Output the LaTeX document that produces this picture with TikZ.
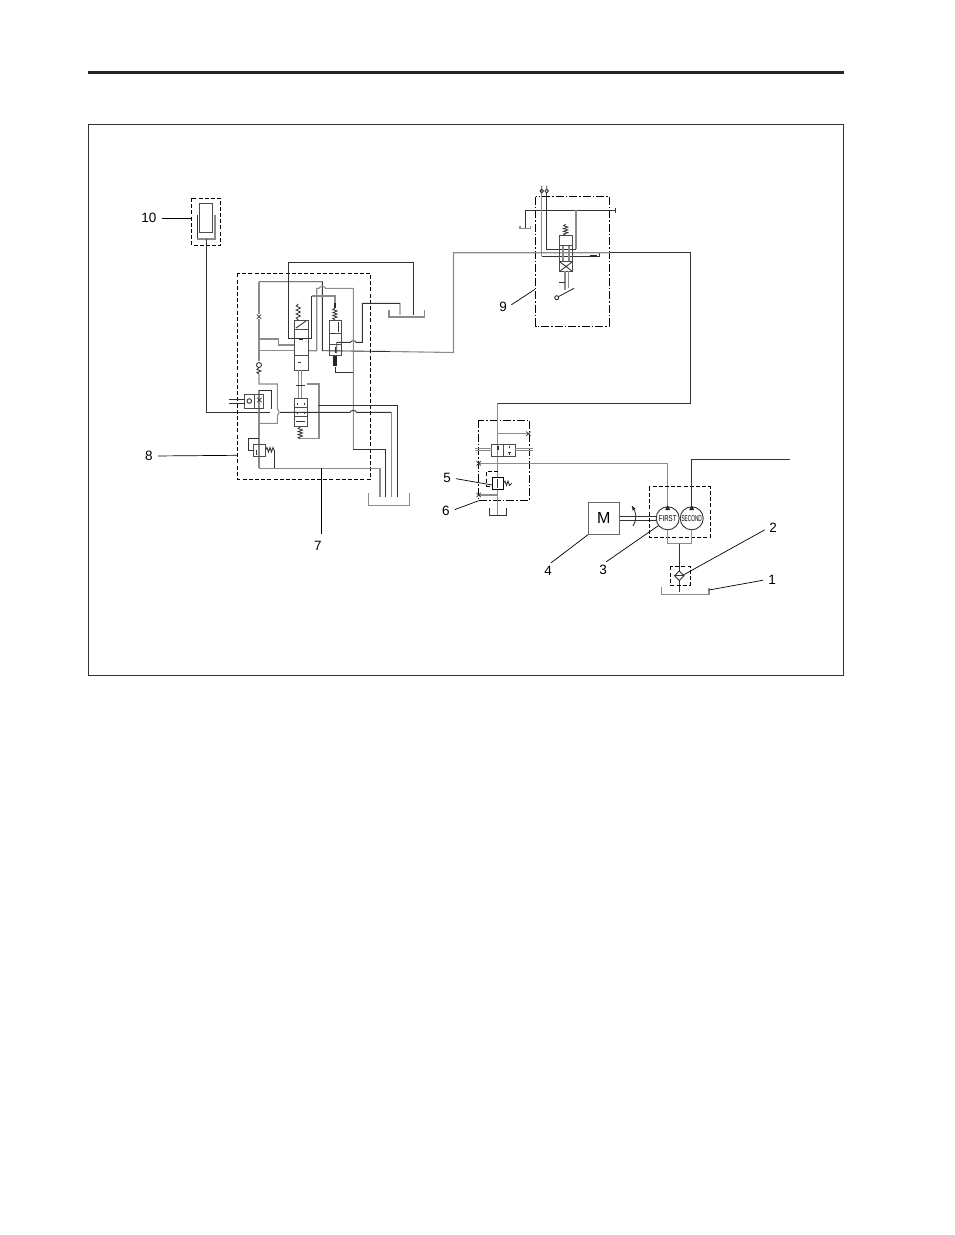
\documentclass[tikz,border=0pt]{standalone}
\usepackage{fontspec}
\setmainfont{Liberation Sans}
\usetikzlibrary{calc}
\tikzset{
  pipe/.style={line width=.9pt,black!80},
  pipeg/.style={line width=1.1pt,black!45},
  vbox/.style={line width=1pt,black!70},
  dbox/.style={line width=.8pt,black,dash pattern=on 4pt off 2.2pt},
  ddbox/.style={line width=.8pt,black,dash pattern=on 8pt off 2pt on 1.5pt off 2pt},
  leader/.style={line width=.7pt,black,shorten <=4pt},
  numlabel/.style={inner sep=1pt,font=\fontsize{13.5}{15}\selectfont},
}
\newcommand{\xmark}[2]{\draw[line width=.7pt,black!80] (#1-2.2,#2-2.2)--(#1+2.2,#2+2.2) (#1-2.2,#2+2.2)--(#1+2.2,#2-2.2);}
% zigzag spring going down from (x,y), h = one eighth of its length
\newcommand{\springv}[3]{\draw[line width=.8pt,black!80] (#1,#2)--(#1-2.2,#2+#3)--(#1+2.2,#2+2*#3)--(#1-2.2,#2+3*#3)--(#1+2.2,#2+4*#3)--(#1-2.2,#2+5*#3)--(#1+2.2,#2+6*#3)--(#1-2.2,#2+7*#3)--(#1,#2+8*#3);}
\begin{document}
\begin{tikzpicture}[x=1pt,y=-1pt]
  \useasboundingbox (0,0) rectangle (954,1235);
  \draw[line width=3pt,black!85] (88,72)--(844,72);
  \draw[line width=.9pt,black!80] (88.5,124) rectangle (843.5,675.5);

  % block 10
  \begin{scope}
    \draw[dbox] (191.7,198) rectangle (220.7,245.7);
    \draw[vbox] (199.3,203.7) rectangle (212.7,232.7);
    \draw[pipe] (197.3,215)--(197.3,239);
    \draw[pipeg] (197.3,239)--(215,239)--(215,215);
    \draw[pipe] (206.3,239)--(206.3,412.3)--(259,412.3);
  \end{scope}

  % block 7
  \draw[dbox] (237.7,273.3) rectangle (370.7,479.3);
  \begin{scope}
    \coordinate (T1) at (413.7,315);
    \coordinate (T2) at (400,315);
    \draw[pipe] (311.7,338.3)--(288.3,338.3)--(288.3,262)--(413.7,262)--(T1);
    \draw[pipeg] (389,310)--(389,317)--(424.3,317)--(424.3,310);
    \draw[pipe] (T2)--(400,303.3)--(362.3,303.3)--(362.3,342.3)--(356,342.3) to[bend right=80] (350.5,342.3) --(336.7,342.3)--(336.7,353.3);
    \draw[pipe] (259,281.7)--(322.3,281.7)--(322.3,350.7)--(390,351.5);
    \draw[pipeg] (259,281.7)--(259,314);
    \draw[pipeg] (259,319)--(259,361);
    \draw[pipeg] (308,350.7)--(316.7,350.7)--(316.7,288.3)--(319,288.3) to[bend left=80] (325.5,288.3)--(353.3,288.3)--(353.3,449.3);
    \draw[pipe] (353.3,449.3)--(385.7,449.3)--(385.7,496.7);
    \draw[pipe] (311.7,338.3)--(311.7,296);
    \draw[pipeg] (311.7,296)--(335,296)--(335,303);
    \draw[pipeg] (259,339)--(278.3,339)--(278.3,345)--(294,345);
    \draw[pipeg] (259,350.7)--(294,350.7);
    \draw[pipe] (335,366.7)--(335,372.7)--(353.3,372.7);

    % upper valves
    \draw[vbox] (294,320) rectangle (308,370);
    \draw[vbox] (294,329.3)--(308,329.3) (294,355)--(308,355);
    \draw[pipe] (296,328)--(306,321);
    \draw[pipe] (299,339)--(303,339) (298,362)--(301,362);
    \springv{298.3}{304}{2}
    \draw[vbox] (329,320) rectangle (341.7,355.7);
    \draw[vbox] (329,333.3)--(341.7,333.3) (329,344.3)--(341.7,344.3);
    \draw[pipe] (331,333)--(335,333);
    \draw[pipe] (338,322)--(338,332);
    \draw[line width=2.5pt,black!85] (335,303)--(335,308);
    \draw[line width=3.5pt,black!85] (335,356)--(335,366);
    \springv{335}{308}{1.5}
    \draw[pipe] (335,347)--(335,353);
    \draw[pipeg] (298.3,370)--(298.3,398.3) (301.7,370)--(301.7,398.3);
    \draw[pipe] (295.5,385.7)--(305,385.7);

    % check valve and orifice
    \xmark{259}{316.7}
    \draw[pipe] (259,365) circle (2.5);
    \draw[pipe] (259,367.5)--(257,369.5)--(261,371)--(257,372.5)--(259,374);
    \draw[pipeg] (259,374)--(259,384)--(277.3,384)--(277.3,409.3) to[bend left=80] (277.3,415.3)--(277.3,423.3)--(259,423.3);
    \draw[pipeg] (259,390)--(259,468.3);
    \draw[pipe] (259,390)--(271.7,390)--(271.7,409);

    % shuttle block
    \draw[vbox] (244.7,394) rectangle (263.3,408);
    \draw[vbox] (254,394)--(254,408);
    \draw[pipe] (249.3,401) circle (2.3);
    \draw[pipe] (229,399.3)--(244.7,399.3) (229,403.3)--(244.7,403.3);
    \xmark{259.3}{400}

    % lower valve
    \draw[vbox] (294,398.3) rectangle (307.3,426.7);
    \draw[vbox] (294,407.7)--(307.3,407.7) (294,416.7)--(307.3,416.7);
    \foreach \py in {403,412}{
      \draw[pipe] (297,\py)--(297,\py+1.5) (304,\py)--(304,\py+1.5);
    }
    \draw[pipe] (296,421)--(305,421);
    \springv{300.3}{427}{1.5}
    \draw[pipeg] (306.7,384)--(319,384)--(319,438.7)--(300,438.7);
    \draw[pipe] (259,412.3)--(270,412.3);
    \draw[pipe] (280,412.3)--(350,412.3) to[bend left=80] (356.5,412.3)--(391.7,412.3);
    \draw[pipeg] (391.7,412.3)--(391.7,496.7);
    \draw[pipe] (318.3,405)--(397.3,405)--(397.3,496.7);

    % relief valve
    \draw[vbox] (253.3,444) rectangle (265.7,456);
    \draw[pipe] (259,438.3)--(248.3,438.3)--(248.3,450)--(253.3,450);
    \draw[pipe] (256.5,450)--(256.5,455);
    \draw[pipe] (265.7,450)--(267,447.5)--(268.5,452)--(270,447.5)--(271.5,452)--(273,447.5)--(274,450);
    \draw[pipe] (274,450)--(274,468.3);
    \draw[pipeg] (259,468.3)--(380,468.3)--(380,496.7);
    \draw[pipeg] (368.3,493.3)--(368.3,505.3)--(409.3,505.3)--(409.3,493.3);
  \end{scope}

  % block 9
  \draw[ddbox] (535.7,196.7) rectangle (609.3,326);
  \begin{scope}
    \draw[pipe] (525.7,228.3)--(525.7,210.3)--(615,210.3);
    \draw[pipe] (615,208)--(615,213);
    \draw[pipeg] (520,226)--(520,228.7)--(530.7,228.7)--(530.7,226);
    \draw[pipeg] (541.7,190)--(541.7,256);
    \draw[pipe] (541.7,256)--(599,256)--(599,253);
    \draw[pipe] (546.7,191.7)--(546.7,249)--(576,249);
    \draw[pipeg] (576,249)--(576,210.3);
    \draw[pipeg] (390,351.5)--(453.5,352.5)--(453.5,252.7)--(610,252.7);
    \draw[pipe] (610,252.7)--(690,252.7)--(690,403)--(497.7,403);
    \fill[black!85] (590,255) rectangle (597,257);
    \foreach \px in {541.7,546.7}{
      \draw[pipe] (\px-1.7,191)--(\px,189)--(\px+1.7,191)--(\px,193)--cycle (\px,185.5)--(\px,188);
    }
    \draw[vbox] (559.7,235.7) rectangle (572,271.3);
    \draw[vbox] (559.7,245.7)--(572,245.7) (559.7,261)--(572,261);
    \draw[pipeg] (563,246)--(563,261) (569,246)--(569,261);
    \draw[pipe] (560,262)--(572,271) (560,271)--(572,262);
    \springv{565.7}{224.3}{1.4}
    \draw[pipeg] (565,271.3)--(565,290) (568.3,271.3)--(568.3,288);
    \draw[pipe] (559.3,282.3)--(565,282.3);
    \draw[pipe] (556.7,297.7) circle (2);
    \draw[pipe] (558.3,296.7)--(574,288.3);
  \end{scope}

  % block 5 6
  \draw[ddbox] (478.7,420) rectangle (529.3,500.3);
  \begin{scope}
    \draw[pipeg] (497.7,403)--(497.7,477.3) (497.7,489.3)--(497.7,515);
    \draw[pipe] (489.3,508.3)--(489.3,515.3)--(506.3,515.3)--(506.3,508.3);
    \draw[vbox] (491.7,444) rectangle (515.3,456.3);
    \draw[vbox] (503.3,444)--(503.3,456.3);
    \draw[pipe,line width=1.4pt] (498,446)--(498,450);
    \draw[pipe] (509,446)--(509,448) (507.5,452)--(510.5,452) (509,452)--(509,455);
    \draw[pipeg] (475,448.7)--(491.7,448.7) (475,450.7)--(491.7,450.7) (515.3,448.7)--(533.3,448.7) (515.3,450.7)--(533.3,450.7);
    \draw[pipeg] (497.7,433.7)--(528.3,433.7);
    \xmark{528.3}{433.7}
    \draw[pipeg] (478.7,463.3)--(667.7,463.3)--(667.7,505);
    \xmark{478.7}{463.3}
    \draw[line width=1pt,black] (492.3,477.3) rectangle (503.3,489.3);
    \draw[dbox,line width=.7pt] (497.7,471)--(486.7,471)--(486.7,486)--(492.3,486);
    \draw[pipe] (497.7,479)--(497.7,488);
    \draw[pipe] (503.3,483.3)--(505,481)--(506.5,485.5)--(508,481)--(509.5,485.5)--(511.7,483.3);
    \draw[pipeg] (478.7,495)--(497.7,495);
    \xmark{478.7}{495}
  \end{scope}

  % motor and pumps
  \begin{scope}
    \node[draw=black!60,line width=.9pt,minimum width=30.7pt,minimum height=32pt,inner sep=0pt,font=\fontsize{16}{18}\selectfont] (motor) at (603.7,518.3) {M};
    \node[circle,draw=black!80,line width=.9pt,minimum size=23pt,inner sep=0pt] (first) at (667.7,518.3) {};
    \node[circle,draw=black!80,line width=.9pt,minimum size=23pt,inner sep=0pt] (second) at (691.7,518.3) {};
    \node[xscale=.72,font=\fontsize{8.5}{9}\selectfont,inner sep=0pt] (firstlab) at (first) {FIRST};
    \node[xscale=.56,font=\fontsize{8.5}{9}\selectfont,inner sep=0pt] (secondlab) at (second) {SECOND};
    \draw[pipe] ($(motor.east)+(0,-1.7)$)--($(first.west)+(0,-1.7)$);
    \draw[pipe] ($(motor.east)+(0,1.7)$)--($(first.west)+(0,1.7)$);
    \draw[pipe] (632,506) .. controls (637,513) and (637,519) .. (633,526);
    \fill[black!85] (632,506)--(635.5,508.5)--(632.5,510.5)--cycle;
    \fill[black!85] (667.7,505)--(670.2,510)--(665.2,510)--cycle;
    \fill[black!85] (691.7,505)--(694.2,510)--(689.2,510)--cycle;
    \draw[dbox] (649,486.7) rectangle (710.3,537.7);
    \draw[pipe] (second.north)--(691.7,459.3)--(790,459.3);
    \draw[pipeg] (first.south)--(667.7,543.7)--(691.7,543.7)--(second.south);
    \draw[pipe] (679.3,543.7)--(679.3,571) (679.3,580.5)--(679.3,591.7);
    \draw[dbox,line width=.7pt] (670.7,566.3) rectangle (690,585.3);
    \draw[pipe] (679.3,571)--(684,575.7)--(679.3,580.5)--(674.6,575.7)--cycle;
    \draw[pipe] (674.6,575.7)--(684,575.7);
    \draw[pipeg] (661.7,587.3)--(661.7,594.3)--(709,594.3)--(709,588.3);
  \end{scope}

  % numbers
  \node[numlabel] (n1) at (772,579.5) {1};
  \node[numlabel] (n2) at (773,528) {2};
  \node[numlabel] (n3) at (603,570) {3};
  \node[numlabel] (n4) at (548,571) {4};
  \node[numlabel] (n5) at (447,478) {5};
  \node[numlabel] (n6) at (446,511) {6};
  \node[numlabel] (n7) at (318,546) {7};
  \node[numlabel] (n8) at (149,456) {8};
  \node[numlabel] (n9) at (503,307) {9};
  \node[numlabel] (n10) at (149,218) {10};
  \draw[leader] (n1.west)--(709,590);
  \draw[leader] (n2.west)--(683.3,575);
  \draw[leader] (n3.north)--(658.3,525.7);
  \draw[leader] (n4.north)--(motor.south west);
  \draw[leader] (n5.east)--(492.3,485);
  \draw[leader] (n6.east)--(478.7,500.7);
  \draw[leader,shorten <=3pt] (321.3,537)--(321.3,468.3);
  \draw[leader] (n8.east)--(237.7,455.3);
  \draw[leader] (n9.east)--(535,289.3);
  \draw[leader] (n10.east)--(191.7,218);
\end{tikzpicture}
\end{document}
